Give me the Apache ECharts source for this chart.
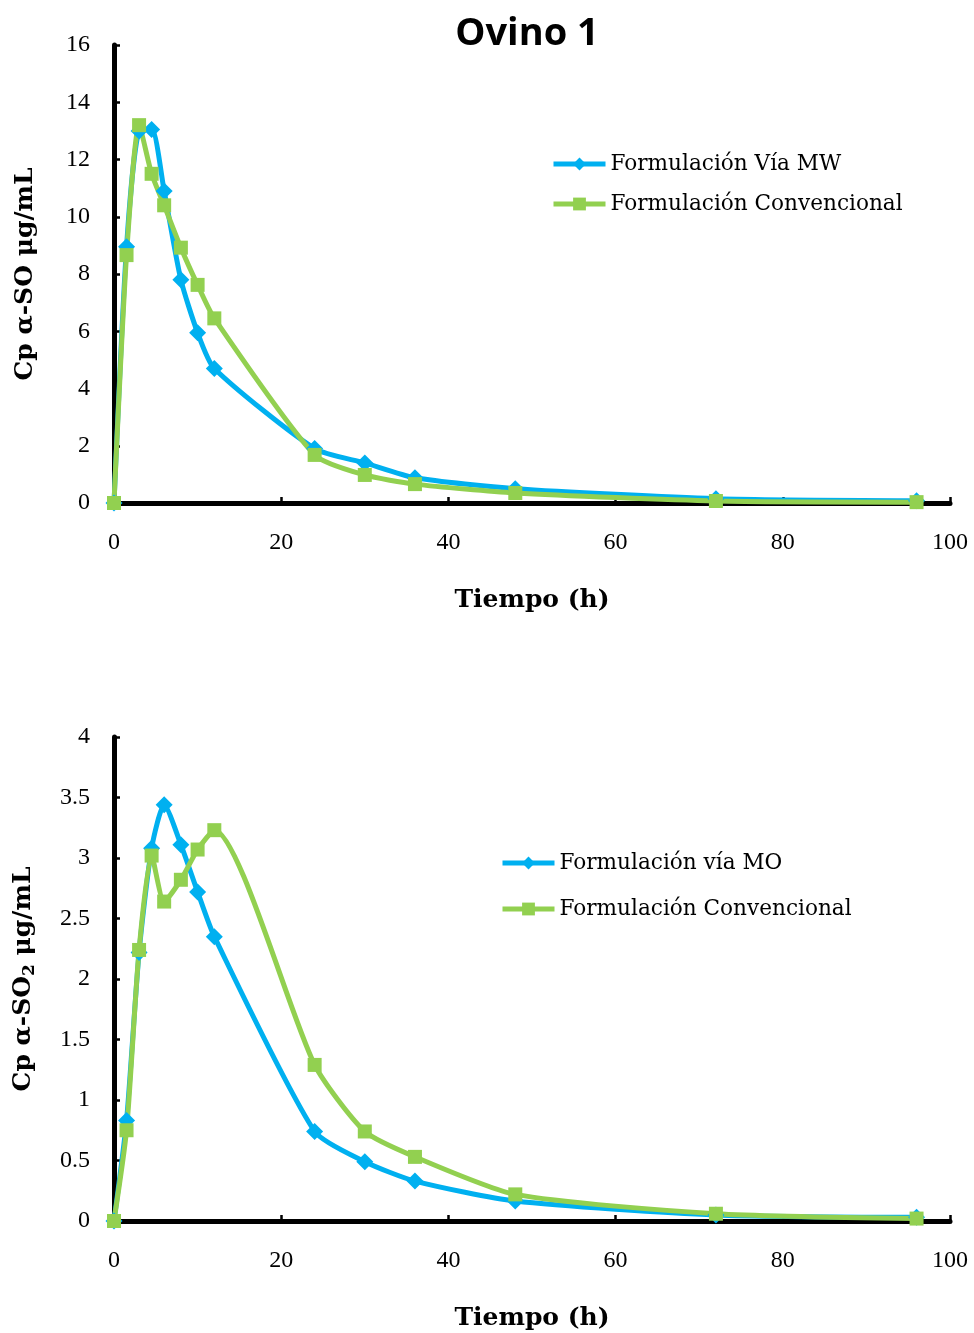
<!DOCTYPE html>
<html>
<head>
<meta charset="utf-8">
<script src="https://cdn.jsdelivr.net/npm/echarts@6/dist/echarts.min.js"></script>
<style>
  html, body { margin: 0; padding: 0; background: #ffffff; }
  #chart { width: 974px; height: 1333px; }
</style>
</head>
<body>
<div id="chart"></div>
<script>
// Sampling times (h)
const tiempo = [0, 1.5, 3, 4.5, 6, 8, 10, 12, 24, 30, 36, 48, 72, 96];

// Cp α-SO (µg/mL)
const soViaMW = [0, 8.95, 13.0, 13.05, 10.9, 7.8, 5.95, 4.7, 1.9, 1.4, 0.88, 0.5, 0.15, 0.08];
const soConvencional = [0, 8.66, 13.2, 11.5, 10.4, 8.92, 7.62, 6.45, 1.68, 0.98, 0.66, 0.35, 0.07, 0.03];

// Cp α-SO2 (µg/mL)
const so2ViaMO = [0, 0.83, 2.22, 3.08, 3.44, 3.11, 2.72, 2.35, 0.74, 0.49, 0.33, 0.165, 0.05, 0.03];
const so2Convencional = [0, 0.75, 2.24, 3.02, 2.64, 2.82, 3.07, 3.23, 1.29, 0.74, 0.53, 0.22, 0.06, 0.02];

const xTicks = { min: 0, max: 100, interval: 20 };

const AZUL = '#00B0F0';
const VERDE = '#92D050';
const SERIF = '"Liberation Serif", "Times New Roman", serif';
const TITLE_SERIF = '"DejaVu Serif", "Liberation Serif", serif';

const pairs = (xs, ys) => xs.map((x, i) => [x, ys[i]]);

function xAxisFor(gridIndex) {
  return {
    type: 'value', gridIndex,
    min: xTicks.min, max: xTicks.max, interval: xTicks.interval,
    name: 'Tiempo (h)', nameLocation: 'middle', nameGap: 85,
    nameTextStyle: { fontFamily: TITLE_SERIF, fontWeight: 'bold', fontSize: 25, color: '#000' },
    axisLine: { show: true, onZero: false, lineStyle: { color: '#000', width: 5 } },
    axisTick: { show: true, inside: true, length: 6, lineStyle: { color: '#000', width: 2.5 } },
    axisLabel: { fontFamily: SERIF, fontSize: 24, color: '#000', margin: 28 },
    splitLine: { show: false }
  };
}

function yAxisFor(gridIndex, max, interval, name) {
  return {
    type: 'value', gridIndex,
    min: 0, max, interval,
    name, nameLocation: 'middle', nameGap: 76, nameRotate: 90,
    nameTextStyle: {
      fontFamily: TITLE_SERIF, fontWeight: 'bold', fontSize: 25, color: '#000',
      rich: {
        sub: { fontFamily: TITLE_SERIF, fontWeight: 'bold', fontSize: 17, color: '#000', verticalAlign: 'bottom', padding: [12, 0, 0, 0] }
      }
    },
    axisLine: { show: true, onZero: false, lineStyle: { color: '#000', width: 5 } },
    axisTick: { show: true, inside: true, length: 6, lineStyle: { color: '#000', width: 2.5 } },
    axisLabel: { fontFamily: SERIF, fontSize: 24, color: '#000', margin: 24 },
    splitLine: { show: false }
  };
}

function lineSeries(name, xi, data, color, symbol, size) {
  return {
    type: 'line', name, xAxisIndex: xi, yAxisIndex: xi,
    data, smooth: 0.22, clip: false,
    symbol, symbolSize: size,
    lineStyle: { color, width: 5 },
    itemStyle: { color },
    emphasis: { disabled: true }
  };
}

const legendText = { fontFamily: TITLE_SERIF, fontSize: 21.6, color: '#000' };

function legendAt(left, top, gap, names) {
  return {
    left, top, orient: 'vertical', itemGap: gap,
    itemWidth: 52, itemHeight: 16,
    lineStyle: { width: 5 },
    data: names,
    textStyle: legendText, selectedMode: false
  };
}

const option = {
  animation: false,
  backgroundColor: '#ffffff',
  title: {
    text: 'Ovino 1', left: 522, top: 10, textAlign: 'center',
    textStyle: { fontFamily: '"Open Sans", "Noto Sans", sans-serif', fontWeight: 'bold', fontSize: 38, color: '#000' }
  },
  grid: [
    { left: 114, top: 45, width: 836, height: 458 },
    { left: 114, top: 737, width: 836, height: 484 }
  ],
  xAxis: [xAxisFor(0), xAxisFor(1)],
  yAxis: [
    yAxisFor(0, 16, 2, 'Cp α-SO μg/mL'),
    yAxisFor(1, 4, 0.5, 'Cp α-SO{sub|2} μg/mL')
  ],
  legend: [
    legendAt(546, 148, 18, ['Formulación Vía MW', 'Formulación Convencional']),
    legendAt(495, 847, 24, ['Formulación vía MO', 'Formulación Convencional'])
  ],
  series: [
    lineSeries('Formulación Vía MW', 0, pairs(tiempo, soViaMW), AZUL, 'diamond', 17),
    lineSeries('Formulación Convencional', 0, pairs(tiempo, soConvencional), VERDE, 'rect', 14),
    lineSeries('Formulación vía MO', 1, pairs(tiempo, so2ViaMO), AZUL, 'diamond', 17),
    lineSeries('Formulación Convencional', 1, pairs(tiempo, so2Convencional), VERDE, 'rect', 14)
  ]
};

const chart = echarts.init(document.getElementById('chart'), null, { renderer: 'canvas' });
chart.setOption(option);
</script>
</body>
</html>
